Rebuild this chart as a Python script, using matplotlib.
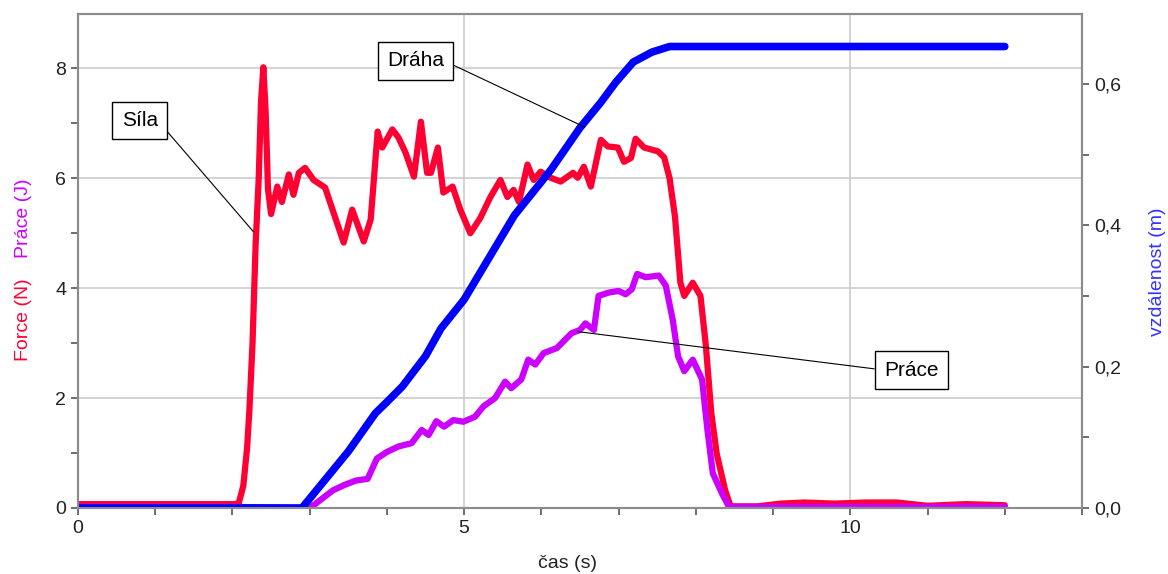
import matplotlib
matplotlib.use("Agg")
import matplotlib.pyplot as plt
from matplotlib.ticker import MultipleLocator, FuncFormatter

plt.rcParams['font.family'] = ['Liberation Sans', 'DejaVu Sans']

# Síla (force, N)
t_sila = [0.0, 0.5, 1.0, 1.5, 2.0, 2.08, 2.14, 2.19, 2.22, 2.26, 2.3, 2.34, 2.37, 2.4, 2.43,
          2.46, 2.5, 2.58, 2.64, 2.73, 2.79, 2.86, 2.94, 3.05, 3.2, 3.31, 3.44, 3.55, 3.7, 3.79,
          3.88, 3.94, 4.07, 4.15, 4.24, 4.35, 4.44, 4.52, 4.57, 4.66, 4.73, 4.85, 4.95, 5.08,
          5.21, 5.34, 5.47, 5.56, 5.64, 5.71, 5.82, 5.9, 5.99, 6.12, 6.25, 6.41, 6.47, 6.55,
          6.64, 6.77, 6.86, 6.99, 7.07, 7.16, 7.22, 7.33, 7.51, 7.59, 7.66, 7.73, 7.8, 7.85,
          7.96, 8.06, 8.13, 8.2, 8.27, 8.38, 8.45, 8.8, 9.1, 9.4, 9.8, 10.2, 10.6, 11.0, 11.5, 12.0]
sila = [0.07, 0.07, 0.07, 0.07, 0.07, 0.08, 0.4, 1.1, 1.8, 3.0, 4.8, 6.0, 7.4, 8.02, 7.2,
        5.8, 5.35, 5.85, 5.57, 6.07, 5.7, 6.1, 6.19, 5.97, 5.83, 5.37, 4.83, 5.43, 4.85, 5.25,
        6.85, 6.56, 6.89, 6.74, 6.47, 6.03, 7.03, 6.1, 6.1, 6.56, 5.74, 5.85, 5.43, 5.0,
        5.28, 5.66, 5.97, 5.66, 5.79, 5.57, 6.25, 5.97, 6.12, 6.01, 5.94, 6.1, 6.01, 6.21,
        5.85, 6.7, 6.58, 6.56, 6.3, 6.37, 6.72, 6.56, 6.49, 6.38, 6.0, 5.3, 4.1, 3.86,
        4.1, 3.86, 2.95, 1.73, 0.99, 0.32, 0.03, 0.03, 0.08, 0.1, 0.08, 0.1, 0.1, 0.04, 0.07, 0.05]

# Práce (work, J)
t_prace = [0.0, 1.0, 2.0, 2.5, 2.9, 3.05, 3.3, 3.45, 3.6, 3.75, 3.87, 4.0, 4.15, 4.32, 4.45,
           4.54, 4.64, 4.74, 4.86, 4.99, 5.14, 5.25, 5.4, 5.53, 5.61, 5.74, 5.83, 5.92, 6.03,
           6.2, 6.39, 6.5, 6.57, 6.68, 6.74, 6.87, 7.0, 7.09, 7.17, 7.24, 7.35, 7.52, 7.61,
           7.7, 7.77, 7.85, 7.96, 8.08, 8.15, 8.22, 8.34, 8.43, 9.0, 10.0, 11.0, 12.0]
prace = [0.02, 0.02, 0.02, 0.01, 0.0, 0.05, 0.32, 0.42, 0.5, 0.53, 0.9, 1.02, 1.12, 1.18, 1.42,
         1.33, 1.58, 1.48, 1.6, 1.57, 1.66, 1.85, 2.0, 2.3, 2.18, 2.34, 2.7, 2.61, 2.82,
         2.91, 3.18, 3.24, 3.36, 3.24, 3.86, 3.92, 3.95, 3.89, 3.98, 4.26, 4.2, 4.23, 4.05,
         3.43, 2.76, 2.49, 2.7, 2.34, 1.42, 0.63, 0.26, 0.02, 0.02, 0.02, 0.02, 0.02]

# Dráha (distance, m)
t_draha = [0.0, 2.9, 3.2, 3.5, 3.85, 4.0, 4.2, 4.5, 4.7, 5.0, 5.65, 6.12, 6.5, 6.77, 6.96,
           7.19, 7.43, 7.66, 12.0]
draha = [0.0, 0.0, 0.04, 0.08, 0.134, 0.15, 0.172, 0.215, 0.254, 0.295, 0.414, 0.478, 0.538,
         0.574, 0.602, 0.631, 0.645, 0.653, 0.653]

red = '#ff0033'
violet = '#cc00ff'
blue = '#0000ff'
frame = '#8c8c8c'

fig = plt.figure(figsize=(11.68, 5.74), dpi=100)
ax = fig.add_axes([78 / 1168, 1 - 508 / 574, 1004 / 1168, 494 / 574])
ax2 = ax.twinx()

ax.plot(t_sila, sila, color=red, lw=4.5, solid_capstyle='round', solid_joinstyle='round')
ax.plot(t_prace, prace, color=violet, lw=4.5, solid_capstyle='round', solid_joinstyle='round')
ax2.plot(t_draha, draha, color=blue, lw=5.5, solid_capstyle='round', solid_joinstyle='round')

ax.set_xlim(0, 13)
ax.set_ylim(0, 8.99)
ax2.set_ylim(0, 0.699)

ax.xaxis.set_major_locator(MultipleLocator(5))
ax.xaxis.set_minor_locator(MultipleLocator(1))
ax.yaxis.set_major_locator(MultipleLocator(2))
ax.yaxis.set_minor_locator(MultipleLocator(1))
ax2.yaxis.set_major_locator(MultipleLocator(0.2))
ax2.yaxis.set_minor_locator(MultipleLocator(0.1))
ax2.yaxis.set_major_formatter(FuncFormatter(lambda v, p: f"{v:.1f}".replace('.', ',')))

ax.set_axisbelow(True)
ax.grid(True, which='major', color='#cccccc', lw=1.2)

for a in (ax, ax2):
    a.tick_params(which='both', direction='out', length=5, width=1.2, color='#555555',
                  labelsize=14, labelcolor='#222222')
    for s in a.spines.values():
        s.set_color(frame)
        s.set_linewidth(1.5)

# axis labels
fig.text(23 / 1168, 1 - 320 / 574, 'Force (N)', color=red, fontsize=14,
         rotation=90, ha='center', va='center')
fig.text(23 / 1168, 1 - 218 / 574, 'Práce (J)', color=violet, fontsize=14,
         rotation=90, ha='center', va='center')
fig.text(1158 / 1168, 1 - 272 / 574, 'vzdálenost (m)', color='#3333ff', fontsize=14,
         rotation=90, ha='center', va='center')
fig.text(567 / 1168, 1 - 563 / 574, 'čas (s)', color='#222222', fontsize=14,
         ha='center', va='center')

# callouts
box = dict(boxstyle='square,pad=0.45', fc='white', ec='black', lw=1)
ax2.annotate('Síla', xy=(2.27, 5.03), xytext=(0.80, 7.05),
             xycoords=ax.transData, textcoords=ax.transData,
             fontsize=15, ha='center', va='center', bbox=box,
             arrowprops=dict(arrowstyle='-', color='black', lw=0.8, relpos=(1, 0.5),
                             shrinkA=0, shrinkB=0))
ax2.annotate('Dráha', xy=(6.56, 0.539), xytext=(4.37, 8.14),
             xycoords='data', textcoords=ax.transData,
             fontsize=15, ha='center', va='center', bbox=box,
             arrowprops=dict(arrowstyle='-', color='black', lw=0.8, relpos=(1, 0.5),
                             shrinkA=0, shrinkB=0))
ax2.annotate('Práce', xy=(6.47, 3.21), xytext=(10.79, 2.51),
             xycoords=ax.transData, textcoords=ax.transData,
             fontsize=15, ha='center', va='center', bbox=box,
             arrowprops=dict(arrowstyle='-', color='black', lw=0.8, relpos=(0, 0.5),
                             shrinkA=0, shrinkB=0))

fig.savefig('out.png', dpi=100)
